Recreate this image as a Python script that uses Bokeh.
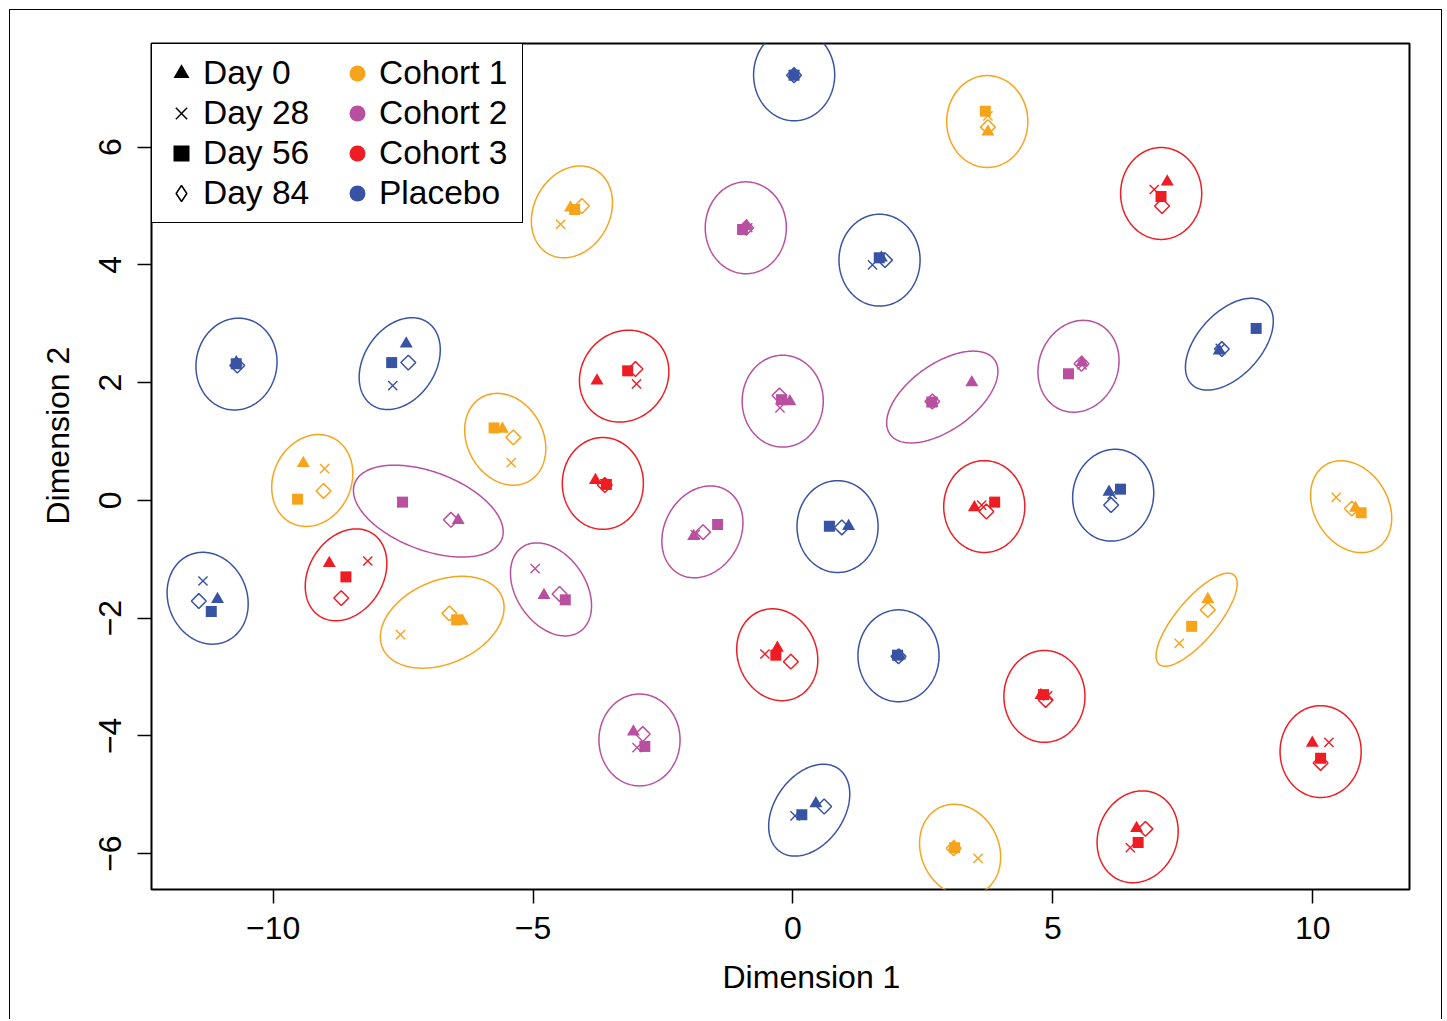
import numpy as np
from bokeh.plotting import figure
from bokeh.models import FixedTicker, Legend, LegendItem, Title, Range1d, ColumnDataSource
from bokeh.embed import file_html
from bokeh.resources import INLINE

# ---------------- data ----------------
cohort_names = ["Cohort 1", "Cohort 2", "Cohort 3", "Placebo"]
cohort_colors = ["#F7A41D", "#B8509F", "#EE1D24", "#3953A4"]
day_names = ["Day 0", "Day 28", "Day 56", "Day 84"]

x_ticks = [-10, -5, 0, 5, 10]
x_tick_labels = ["\u221210", "\u22125", "0", "5", "10"]
y_ticks = [-6, -4, -2, 0, 2, 4, 6]
y_tick_labels = ["\u22126", "\u22124", "\u22122", "0", "2", "4", "6"]

# one entry per subject (cohort index into cohort_names)
subject_cohort = [0] * 8 + [1] * 8 + [2] * 9 + [3] * 10

day0_x = [3.75, -4.28, -5.59, -9.42, 10.82, -6.36, 7.98, 3.10,
          -0.89, 5.56, 3.44, -0.06, -6.44, -1.91, -4.79, -3.07,
          7.20, -3.77, -3.80, 3.49, -8.92, -0.30, 4.77, 6.61, 9.99,
          0.02, -10.71, -7.44, 1.70, 8.20, 1.07, 6.08, -11.07, 2.05, 0.44]
day0_y = [6.26, 4.97, 1.21, 0.63, -0.13, -2.05, -1.68, -5.88,
          4.66, 2.34, 2.00, 1.68, -0.34, -0.61, -1.61, -3.93,
          5.41, 2.03, 0.34, -0.12, -1.07, -2.51, -3.31, -5.57, -4.12,
          7.24, 2.34, 2.66, 4.12, 2.54, -0.44, 0.14, -1.68, -2.64, -5.15]

day28_x = [3.75, -4.47, -5.42, -9.01, 10.45, -7.55, 7.43, 3.56,
           -0.87, 5.56, 2.70, -0.25, -7.53, -1.88, -4.96, -3.00,
           6.95, -3.01, -3.62, 3.63, -8.18, -0.54, 4.90, 6.49, 10.31,
           0.03, -10.71, -7.70, 1.53, 8.22, 0.72, 6.14, -11.35, 2.03, 0.04]
day28_y = [6.53, 4.69, 0.64, 0.54, 0.05, -2.28, -2.43, -6.08,
           4.63, 2.30, 1.67, 1.57, -0.03, -0.58, -1.16, -4.20,
           5.28, 1.98, 0.28, -0.08, -1.03, -2.61, -3.32, -5.90, -4.11,
           7.23, 2.31, 1.95, 4.00, 2.58, -0.44, 0.10, -1.37, -2.64, -5.36]

day56_x = [3.70, -4.20, -5.75, -9.53, 10.93, -6.47, 7.67, 3.11,
           -0.97, 5.30, 2.67, -0.22, -7.51, -1.45, -4.38, -2.85,
           7.08, -3.18, -3.59, 3.88, -8.60, -0.33, 4.82, 6.64, 10.15,
           0.02, -10.71, -7.72, 1.66, 8.91, 0.70, 6.30, -11.19, 2.01, 0.17]
day56_y = [6.61, 4.94, 1.23, 0.02, -0.21, -2.03, -2.14, -5.90,
           4.60, 2.15, 1.67, 1.71, -0.03, -0.41, -1.69, -4.18,
           5.16, 2.20, 0.27, -0.03, -1.30, -2.63, -3.30, -5.81, -4.38,
           7.22, 2.32, 2.34, 4.12, 2.92, -0.44, 0.19, -1.89, -2.63, -5.34]

day84_x = [3.75, -4.06, -5.38, -9.03, 10.75, -6.61, 7.98, 3.09,
           -0.90, 5.55, 2.68, -0.26, -6.58, -1.73, -4.49, -2.89,
           7.10, -3.03, -3.62, 3.72, -8.69, -0.04, 4.86, 6.78, 10.15,
           0.02, -10.69, -7.40, 1.77, 8.25, 0.94, 6.12, -11.43, 2.03, 0.60]
day84_y = [6.34, 5.00, 1.07, 0.16, -0.14, -1.92, -1.86, -5.91,
           4.63, 2.32, 1.68, 1.78, -0.33, -0.54, -1.59, -3.97,
           5.00, 2.23, 0.26, -0.19, -1.66, -2.74, -3.39, -5.58, -4.46,
           7.22, 2.29, 2.34, 4.08, 2.57, -0.46, -0.08, -1.71, -2.65, -5.20]

# ellipse half-extent along x, along y, and correlation (tilt)
ellipse_rx = [0.78, 0.78, 0.78, 0.78, 0.78, 1.19, 0.78, 0.78,
              0.78, 0.78, 1.07, 0.78, 1.44, 0.78, 0.78, 0.78,
              0.78, 0.86, 0.78, 0.78, 0.785, 0.78, 0.78, 0.78, 0.78,
              0.78, 0.78, 0.78, 0.78, 0.845, 0.78, 0.78, 0.78, 0.78, 0.78]
ellipse_ry = [0.78, 0.78, 0.78, 0.78, 0.78, 0.78, 0.79, 0.78,
              0.78, 0.78, 0.78, 0.78, 0.78, 0.78, 0.79, 0.78,
              0.78, 0.78, 0.78, 0.78, 0.78, 0.78, 0.78, 0.78, 0.78,
              0.78, 0.78, 0.78, 0.78, 0.78, 0.78, 0.78, 0.78, 0.78, 0.78]
ellipse_rho = [0.0, 0.2, -0.2, 0.15, -0.25, 0.32, 0.775, -0.15,
               0.0, 0.12, 0.56, 0.0, -0.45, 0.2, -0.35, 0.0,
               0.0, 0.1, 0.0, 0.0, 0.25, -0.12, 0.0, 0.12, 0.0,
               0.0, 0.05, 0.3, 0.0, 0.5, 0.0, 0.05, -0.12, 0.0, 0.35]

# ---------------- figure ----------------
p = figure(width=1442, height=1019,
           x_range=Range1d(-12.34, 11.86), y_range=Range1d(-6.61, 7.76),
           output_backend="svg", toolbar_location=None, title=None,
           min_border_left=151, min_border_right=33,
           min_border_top=43, min_border_bottom=130)
p.grid.visible = False
p.background_fill_color = "white"
p.border_fill_color = None
p.outline_line_color = "black"
p.outline_line_width = 2
# thin page frame (left, top, right) like the reference figure border
p.styles = {"background": (
    "linear-gradient(#000,#000) 9px 9px / 1px 100% no-repeat, "
    "linear-gradient(#000,#000) 9px 9px / 1433px 1px no-repeat, "
    "linear-gradient(#000,#000) 1441px 9px / 1px 100% no-repeat")}

FONT = "Liberation Sans"
for ax in (p.xaxis[0], p.yaxis[0]):
    ax.major_label_text_font = FONT
    ax.major_label_text_font_size = "32px"
    ax.major_label_text_color = "black"
    ax.major_tick_out = 14
    ax.major_tick_in = 0
    ax.minor_tick_out = 0
    ax.minor_tick_in = 0
    ax.major_tick_line_color = "black"
    ax.major_tick_line_width = 1.5
    ax.axis_line_color = None

p.xaxis.ticker = FixedTicker(ticks=x_ticks)
p.xaxis.major_label_overrides = dict(zip(x_ticks, x_tick_labels))
p.xaxis.major_label_standoff = 13
p.yaxis.ticker = FixedTicker(ticks=y_ticks)
p.yaxis.major_label_overrides = dict(zip(y_ticks, y_tick_labels))
p.yaxis.major_label_orientation = "vertical"
p.yaxis.major_label_standoff = 16

colors = [cohort_colors[c] for c in subject_cohort]

# ellipses (centre = mean of the four visits)
t = np.linspace(0, 2 * np.pi, 241)
ex, ey = [], []
for i in range(len(subject_cohort)):
    cx = np.mean([day0_x[i], day28_x[i], day56_x[i], day84_x[i]])
    cy = np.mean([day0_y[i], day28_y[i], day56_y[i], day84_y[i]])
    d = np.arccos(ellipse_rho[i])
    ex.append(list(cx + ellipse_rx[i] * np.cos(t)))
    ey.append(list(cy + ellipse_ry[i] * np.cos(t - d)))
p.multi_line(xs=ex, ys=ey, line_color=colors, line_width=1.5)

src = ColumnDataSource(dict(x0=day0_x, y0=day0_y, x28=day28_x, y28=day28_y,
                            x56=day56_x, y56=day56_y, x84=day84_x, y84=day84_y,
                            color=colors))
p.scatter(x="x0", y="y0", source=src, marker="triangle", size=13,
          fill_color="color", line_color=None)
p.scatter(x="x28", y="y28", source=src, marker="x", size=13,
          line_color="color", line_width=1.4)
p.scatter(x="x56", y="y56", source=src, marker="square", size=11,
          fill_color="color", line_color=None)
p.scatter(x="x84", y="y84", source=src, marker="square", size=10.5, angle=np.pi / 4,
          fill_color=None, line_color="color", line_width=1.5)

# legend proxies (one NaN point each, never visible in the plot area)
day_markers = ["triangle", "x", "square", "diamond"]
items = []
for name, mk in zip(day_names, day_markers):
    filled = mk in ("triangle", "square")
    r = p.scatter(x=[np.nan], y=[np.nan], marker=mk,
                  fill_color="black" if filled else None,
                  line_color=None if filled else "black", line_width=1.5)
    items.append(LegendItem(label=name, renderers=[r]))
for name, col in zip(cohort_names, cohort_colors):
    r = p.scatter(x=[np.nan], y=[np.nan], marker="circle", fill_color=col, line_color=None)
    items.append(LegendItem(label=name, renderers=[r]))

legend = Legend(items=items, location="top_left", nrows=4, orientation="vertical",
                margin=0, padding=9, spacing=0,
                glyph_width=40, glyph_height=40, label_height=40, label_width=134,
                label_standoff=2, label_text_font=FONT, label_text_font_size="33.5px",
                label_text_color="black",
                border_line_color="black", border_line_width=1.5, border_line_alpha=1.0,
                background_fill_color="white", background_fill_alpha=1.0)
p.add_layout(legend)

# axis titles
p.add_layout(Title(text="Dimension 1", align="left", offset=571, standoff=30,
                   text_font=FONT, text_font_size="32px", text_font_style="normal",
                   text_color="black"), "below")
p.add_layout(Title(text="Dimension 2", align="left", offset=365, standoff=42,
                   text_font=FONT, text_font_size="32px", text_font_style="normal",
                   text_color="black"), "left")

open("out.html", "w").write(file_html(p, INLINE))
